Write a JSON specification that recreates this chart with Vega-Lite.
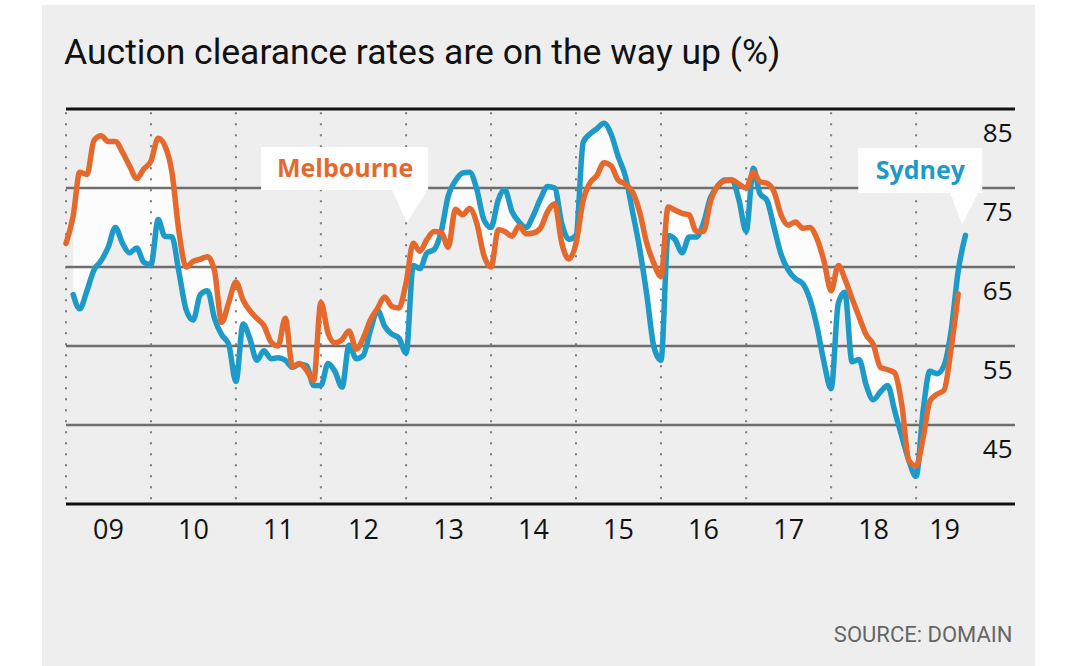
{
  "$schema": "https://vega.github.io/schema/vega-lite/v6.json",
  "width": 949,
  "height": 395,
  "autosize": {"type": "none"},
  "padding": {"left": 66, "top": 109, "right": 65, "bottom": 162},
  "background": "#ffffff",
  "config": {"view": {"stroke": null}, "font": "Open Sans"},
  "title": {
    "text": "Auction clearance rates are on the way up (%)",
    "anchor": "start",
    "font": "Roboto",
    "fontSize": 35.5,
    "fontWeight": "normal",
    "color": "#111111",
    "offset": -67,
    "dx": 22,
    "zindex": 1
  },
  "data": {
    "values": [
      {"d":"2009-01","mel":68.0,"syd":null},
      {"d":"2009-02","mel":71.5,"syd":61.5},
      {"d":"2009-03","mel":77.0,"syd":59.7},
      {"d":"2009-04","mel":76.7,"syd":62.0},
      {"d":"2009-05","mel":81.0,"syd":64.6},
      {"d":"2009-06","mel":81.6,"syd":65.8},
      {"d":"2009-07","mel":80.9,"syd":67.5},
      {"d":"2009-08","mel":80.9,"syd":70.0},
      {"d":"2009-09","mel":79.5,"syd":68.0},
      {"d":"2009-10","mel":77.8,"syd":66.8},
      {"d":"2009-11","mel":76.2,"syd":67.4},
      {"d":"2009-12","mel":77.4,"syd":65.6},
      {"d":"2010-01","mel":78.4,"syd":65.3},
      {"d":"2010-02","mel":81.3,"syd":71.0},
      {"d":"2010-03","mel":80.4,"syd":68.9},
      {"d":"2010-04","mel":77.0,"syd":68.8},
      {"d":"2010-05","mel":69.5,"syd":64.4},
      {"d":"2010-06","mel":65.0,"syd":59.6},
      {"d":"2010-07","mel":65.7,"syd":58.3},
      {"d":"2010-08","mel":66.0,"syd":61.5},
      {"d":"2010-09","mel":66.3,"syd":62.0},
      {"d":"2010-10","mel":64.5,"syd":58.5},
      {"d":"2010-11","mel":58.0,"syd":56.4},
      {"d":"2010-12","mel":60.5,"syd":55.2},
      {"d":"2011-01","mel":63.1,"syd":50.5},
      {"d":"2011-02","mel":60.8,"syd":57.8},
      {"d":"2011-03","mel":59.5,"syd":56.0},
      {"d":"2011-04","mel":58.5,"syd":53.2},
      {"d":"2011-05","mel":57.6,"syd":54.4},
      {"d":"2011-06","mel":55.5,"syd":53.4},
      {"d":"2011-07","mel":55.0,"syd":53.5},
      {"d":"2011-08","mel":58.5,"syd":53.2},
      {"d":"2011-09","mel":52.4,"syd":52.3},
      {"d":"2011-10","mel":52.8,"syd":52.7},
      {"d":"2011-11","mel":51.9,"syd":52.5},
      {"d":"2011-12","mel":50.6,"syd":50.0},
      {"d":"2012-01","mel":60.5,"syd":50.0},
      {"d":"2012-02","mel":56.6,"syd":52.8},
      {"d":"2012-03","mel":55.4,"syd":51.8},
      {"d":"2012-04","mel":55.8,"syd":49.8},
      {"d":"2012-05","mel":56.9,"syd":55.1},
      {"d":"2012-06","mel":54.6,"syd":53.4},
      {"d":"2012-07","mel":56.0,"syd":53.8},
      {"d":"2012-08","mel":58.3,"syd":57.0},
      {"d":"2012-09","mel":59.8,"syd":59.5},
      {"d":"2012-10","mel":61.2,"syd":57.5},
      {"d":"2012-11","mel":60.0,"syd":56.5},
      {"d":"2012-12","mel":59.8,"syd":56.0},
      {"d":"2013-01","mel":63.0,"syd":54.1},
      {"d":"2013-02","mel":68.0,"syd":65.2},
      {"d":"2013-03","mel":67.0,"syd":64.8},
      {"d":"2013-04","mel":68.5,"syd":66.8},
      {"d":"2013-05","mel":69.5,"syd":67.2},
      {"d":"2013-06","mel":69.4,"syd":69.5},
      {"d":"2013-07","mel":67.5,"syd":74.0},
      {"d":"2013-08","mel":72.3,"syd":75.9},
      {"d":"2013-09","mel":71.6,"syd":76.9},
      {"d":"2013-10","mel":72.4,"syd":77.0},
      {"d":"2013-11","mel":70.5,"syd":74.8},
      {"d":"2013-12","mel":66.5,"syd":71.0},
      {"d":"2014-01","mel":65.0,"syd":70.0},
      {"d":"2014-02","mel":69.7,"syd":73.5},
      {"d":"2014-03","mel":69.5,"syd":74.8},
      {"d":"2014-04","mel":68.9,"syd":72.0},
      {"d":"2014-05","mel":70.2,"syd":70.7},
      {"d":"2014-06","mel":69.2,"syd":70.0},
      {"d":"2014-07","mel":69.3,"syd":71.5},
      {"d":"2014-08","mel":69.9,"syd":73.6},
      {"d":"2014-09","mel":72.0,"syd":75.2},
      {"d":"2014-10","mel":73.0,"syd":75.0},
      {"d":"2014-11","mel":68.0,"syd":70.5},
      {"d":"2014-12","mel":66.0,"syd":68.5},
      {"d":"2015-01","mel":68.0,"syd":69.0},
      {"d":"2015-02","mel":73.5,"syd":80.8},
      {"d":"2015-03","mel":75.6,"syd":81.8},
      {"d":"2015-04","mel":76.6,"syd":82.5},
      {"d":"2015-05","mel":78.2,"syd":83.2},
      {"d":"2015-06","mel":77.8,"syd":81.8},
      {"d":"2015-07","mel":76.0,"syd":79.0},
      {"d":"2015-08","mel":75.5,"syd":76.5},
      {"d":"2015-09","mel":74.5,"syd":72.0},
      {"d":"2015-10","mel":72.0,"syd":67.4},
      {"d":"2015-11","mel":68.0,"syd":61.5},
      {"d":"2015-12","mel":65.5,"syd":55.0},
      {"d":"2016-01","mel":63.8,"syd":53.2},
      {"d":"2016-02","mel":72.6,"syd":69.0},
      {"d":"2016-03","mel":72.2,"syd":68.5},
      {"d":"2016-04","mel":71.8,"syd":66.8},
      {"d":"2016-05","mel":71.6,"syd":68.8},
      {"d":"2016-06","mel":69.5,"syd":68.8},
      {"d":"2016-07","mel":69.5,"syd":70.5},
      {"d":"2016-08","mel":73.3,"syd":73.8},
      {"d":"2016-09","mel":75.3,"syd":75.2},
      {"d":"2016-10","mel":75.9,"syd":76.0},
      {"d":"2016-11","mel":76.0,"syd":76.0},
      {"d":"2016-12","mel":75.5,"syd":73.5},
      {"d":"2017-01","mel":75.0,"syd":69.5},
      {"d":"2017-02","mel":77.0,"syd":77.5},
      {"d":"2017-03","mel":75.8,"syd":74.3},
      {"d":"2017-04","mel":75.6,"syd":73.4},
      {"d":"2017-05","mel":74.5,"syd":70.0},
      {"d":"2017-06","mel":71.5,"syd":66.5},
      {"d":"2017-07","mel":70.3,"syd":64.6},
      {"d":"2017-08","mel":70.7,"syd":63.5},
      {"d":"2017-09","mel":69.9,"syd":62.9},
      {"d":"2017-10","mel":70.0,"syd":61.0},
      {"d":"2017-11","mel":68.6,"syd":57.5},
      {"d":"2017-12","mel":65.8,"syd":53.0},
      {"d":"2018-01","mel":62.0,"syd":49.6},
      {"d":"2018-02","mel":65.2,"syd":60.4},
      {"d":"2018-03","mel":63.5,"syd":61.8},
      {"d":"2018-04","mel":61.0,"syd":53.0},
      {"d":"2018-05","mel":58.7,"syd":53.3},
      {"d":"2018-06","mel":56.4,"syd":50.0},
      {"d":"2018-07","mel":55.2,"syd":48.2},
      {"d":"2018-08","mel":52.3,"syd":49.2},
      {"d":"2018-09","mel":52.0,"syd":50.0},
      {"d":"2018-10","mel":51.6,"syd":46.8},
      {"d":"2018-11","mel":47.5,"syd":43.5},
      {"d":"2018-12","mel":40.5,"syd":40.5},
      {"d":"2019-01","mel":39.8,"syd":38.5},
      {"d":"2019-02","mel":43.5,"syd":47.0},
      {"d":"2019-03","mel":48.0,"syd":51.8},
      {"d":"2019-04","mel":48.9,"syd":51.5},
      {"d":"2019-05","mel":49.4,"syd":52.5},
      {"d":"2019-06","mel":54.8,"syd":57.0},
      {"d":"2019-07","mel":61.6,"syd":64.5},
      {"d":"2019-08","mel":null,"syd":69.0}
    ],
    "format": {"parse": {"d": "date:'%Y-%m'"}}
  },
  "layer": [
    {
      "data": {"values": [{"panel": "background"}]},
      "mark": {"type": "rect", "color": "#eeeeee", "clip": false},
      "encoding": {
        "x": {"datum": {"year": 2008, "month": 9, "date": 20}, "type": "temporal"},
        "x2": {"datum": {"year": 2020, "month": 5, "date": 26}},
        "y": {"datum": 98.2, "type": "quantitative"},
        "y2": {"datum": 14}
      }
    },
    {
      "transform": [{"filter": "datum.mel != null && datum.syd != null"}],
      "mark": {"type": "area", "color": "#fcfcfc", "opacity": 1, "interpolate": "monotone"},
      "encoding": {
        "x": {
          "field": "d",
          "type": "temporal",
          "scale": {
            "domain": [{"year": 2009, "month": 1, "date": 1}, {"year": 2020, "month": 3, "date": 1}],
            "nice": false
          },
          "axis": {
            "values": [{"year":2009},{"year":2010},{"year":2011},{"year":2012},{"year":2013},{"year":2014},{"year":2015},{"year":2016},{"year":2017},{"year":2018},{"year":2019}],
            "format": "%y",
            "zindex": 1,
            "domain": false,
            "ticks": false,
            "grid": false,
            "labelFlush": false,
            "labelOverlap": false,
            "labelBound": false,
            "labelFont": "Open Sans",
            "labelFontSize": 27,
            "labelColor": "#111111",
            "labelPadding": 13,
            "labelOffset": {"condition": {"test": "year(datum.value) == 2019", "value": 28}, "value": 42},
            "title": "SOURCE: DOMAIN",
            "titleX": 946,
            "titleY": 130,
            "titleAlign": "right",
            "titleBaseline": "middle",
            "titleFont": "Roboto",
            "titleFontSize": 22,
            "titleFontWeight": "normal",
            "titleColor": "#666666"
          }
        },
        "y": {
          "field": "mel",
          "type": "quantitative",
          "scale": {"domain": [35, 85], "nice": false, "zero": false},
          "axis": {
            "orient": "right",
            "values": [85, 75, 65, 55, 45, 35],
            "title": null,
            "zindex": 1,
            "domain": false,
            "ticks": false,
            "grid": false,
            "labelExpr": "datum.value == 35 ? '' : datum.label",
            "labelAlign": "right",
            "labelBaseline": "middle",
            "labelPadding": -3,
            "labelOffset": 24,
            "labelFlush": false,
            "labelOverlap": false,
            "labelFont": "Open Sans",
            "labelFontSize": 26,
            "labelColor": "#111111"
          }
        },
        "y2": {"field": "syd"}
      }
    },
    {
      "data": {"values": [{"g": 85}, {"g": 75}, {"g": 65}, {"g": 55}, {"g": 45}, {"g": 35}]},
      "mark": {"type": "rule"},
      "encoding": {
        "x": {"datum": {"year": 2009, "month": 1, "date": 1}, "type": "temporal"},
        "x2": {"datum": {"year": 2020, "month": 3, "date": 1}},
        "y": {"field": "g", "type": "quantitative"},
        "color": {"condition": {"test": "datum.g == 85 || datum.g == 35", "value": "#111111"}, "value": "#6e6e6e"},
        "strokeWidth": {"condition": {"test": "datum.g == 85 || datum.g == 35", "value": 3}, "value": 2.5}
      }
    },
    {
      "data": {"values": [
        {"d": "2009/01/01"}, {"d": "2010/01/01"}, {"d": "2011/01/01"}, {"d": "2012/01/01"},
        {"d": "2013/01/01"}, {"d": "2014/01/01"}, {"d": "2015/01/01"}, {"d": "2016/01/01"},
        {"d": "2017/01/01"}, {"d": "2018/01/01"}, {"d": "2019/01/01"}
      ]},
      "mark": {"type": "rule", "color": "#7a7a7a", "strokeWidth": 2, "strokeDash": [2, 9]},
      "encoding": {
        "x": {"field": "d", "type": "temporal"},
        "y": {"datum": 84.6, "type": "quantitative"},
        "y2": {"datum": 35.4}
      }
    },
    {
      "transform": [{"fold": ["syd", "mel"], "as": ["city", "v"]}],
      "mark": {"type": "line", "strokeWidth": 5.5, "interpolate": "monotone", "strokeJoin": "round", "strokeCap": "round"},
      "encoding": {
        "x": {"field": "d", "type": "temporal"},
        "y": {"field": "v", "type": "quantitative"},
        "color": {
          "field": "city",
          "type": "nominal",
          "scale": {"domain": ["syd", "mel"], "range": ["#1d9ac7", "#e5692c"]},
          "legend": null
        }
      }
    },
    {
      "data": {
        "values": [
          {"city":"mel","label":"Melbourne","d":"2012/04/14","v":77.4},
          {"city":"syd","label":"Sydney","d":"2019/01/19","v":77.2}
        ]
      },
      "mark": {"type": "point", "filled": true, "color": "#ffffff", "opacity": 1, "strokeWidth": 0, "size": 40000},
      "encoding": {
        "x": {"field": "d", "type": "temporal"},
        "y": {"field": "v", "type": "quantitative"},
        "shape": {
          "field": "city",
          "type": "nominal",
          "scale": {
            "domain": ["mel", "syd"],
            "range": [
              "M-0.84,-0.22 L0.83,-0.22 L0.83,0.21 L0.82,0.21 L0.62,0.54 L0.47,0.21 L-0.84,0.21 Z",
              "M-0.62,-0.225 L0.62,-0.225 L0.62,0.225 L0.58,0.225 L0.42,0.545 L0.3,0.225 L-0.62,0.225 Z"
            ]
          },
          "legend": null
        }
      }
    },
    {
      "data": {
        "values": [
          {"city":"mel","label":"Melbourne","d":"2012/04/14","v":77.4},
          {"city":"syd","label":"Sydney","d":"2019/01/19","v":77.2}
        ]
      },
      "mark": {"type": "text", "font": "Open Sans", "fontSize": 25, "fontWeight": "bold", "align": "center", "baseline": "middle"},
      "encoding": {
        "x": {"field": "d", "type": "temporal"},
        "y": {"field": "v", "type": "quantitative"},
        "text": {"field": "label"},
        "color": {"field": "city", "type": "nominal", "legend": null}
      }
    }
  ]
}
